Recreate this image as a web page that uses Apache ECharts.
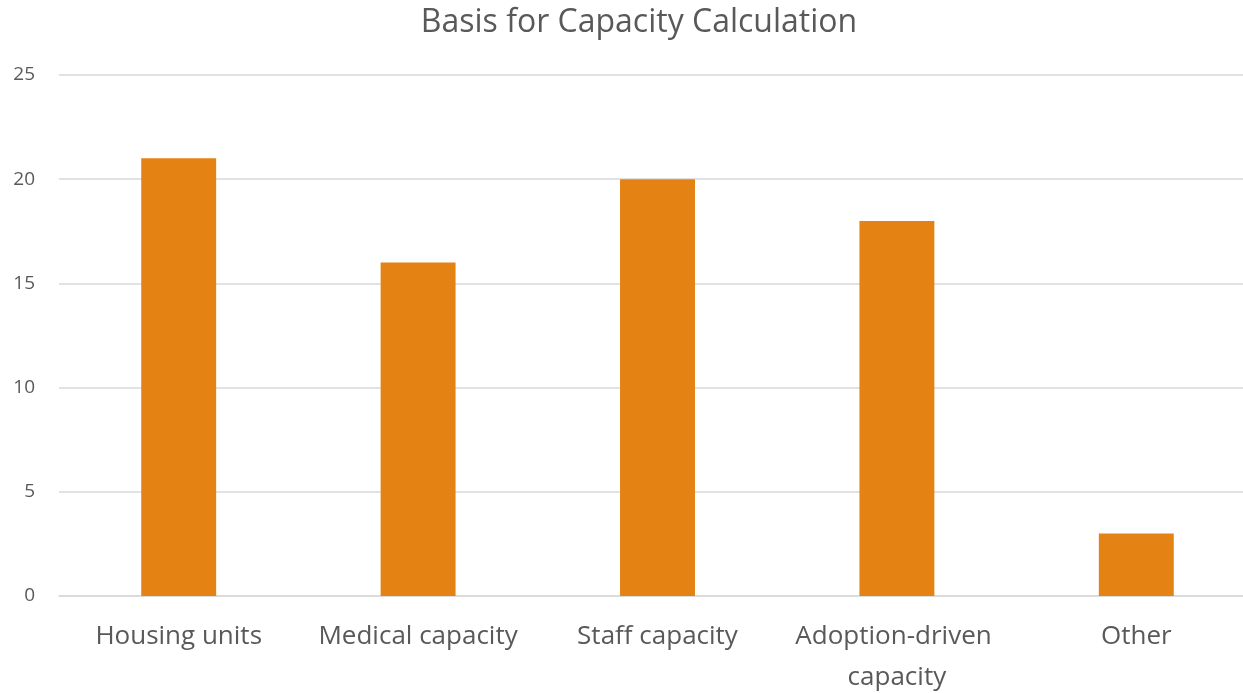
<!DOCTYPE html>
<html>
<head>
<meta charset="utf-8">
<script src="https://cdn.jsdelivr.net/npm/echarts@6/dist/echarts.min.js"></script>
<style>
  html, body { margin: 0; padding: 0; background: #fff; overflow: hidden; }
  #chart { width: 1278px; height: 693px; }
</style>
</head>
<body>
<div id="chart"></div>
<script>
  var titleText = 'Basis for Capacity Calculation'
  var categories = ['Housing units', 'Medical capacity', 'Staff capacity', 'Adoption-driven capacity', 'Other']
  var counts = [21, 16, 20, 18, 3]

  // the plot runs a little past the right edge of the window, like the original
  var myChart = echarts.init(document.getElementById('chart'))
  var textColor = '#595959'
  var option = {
    animation: false,
    textStyle: { fontFamily: 'Open Sans' },
    title: {
      text: titleText,
      left: 'center',
      top: 2,
      textStyle: { color: textColor, fontSize: 32, fontWeight: 'normal', fontFamily: 'Open Sans' }
    },
    grid: { left: 59, right: 22, top: 75, bottom: 97, outerBoundsMode: 'none', containLabel: false },
    xAxis: {
      type: 'category',
      data: categories,
      axisTick: { show: false },
      axisLine: { lineStyle: { color: '#d9d9d9', width: 1.5 } },
      axisLabel: {
        color: textColor,
        fontSize: 26,
        margin: 20,
        lineHeight: 41,
        width: 230,
        overflow: 'break',
        interval: 0
      }
    },
    yAxis: {
      type: 'value',
      min: 0,
      max: 25,
      interval: 5,
      axisLine: { show: false },
      axisTick: { show: false },
      splitLine: { lineStyle: { color: '#d9d9d9', width: 1.5 } },
      axisLabel: { color: textColor, fontSize: 19, margin: 24 }
    },
    series: [{
      type: 'bar',
      data: counts,
      barWidth: '31.3%',
      itemStyle: { color: '#E48313' }
    }]
  }
  myChart.setOption(option, true)
</script>
</body>
</html>
